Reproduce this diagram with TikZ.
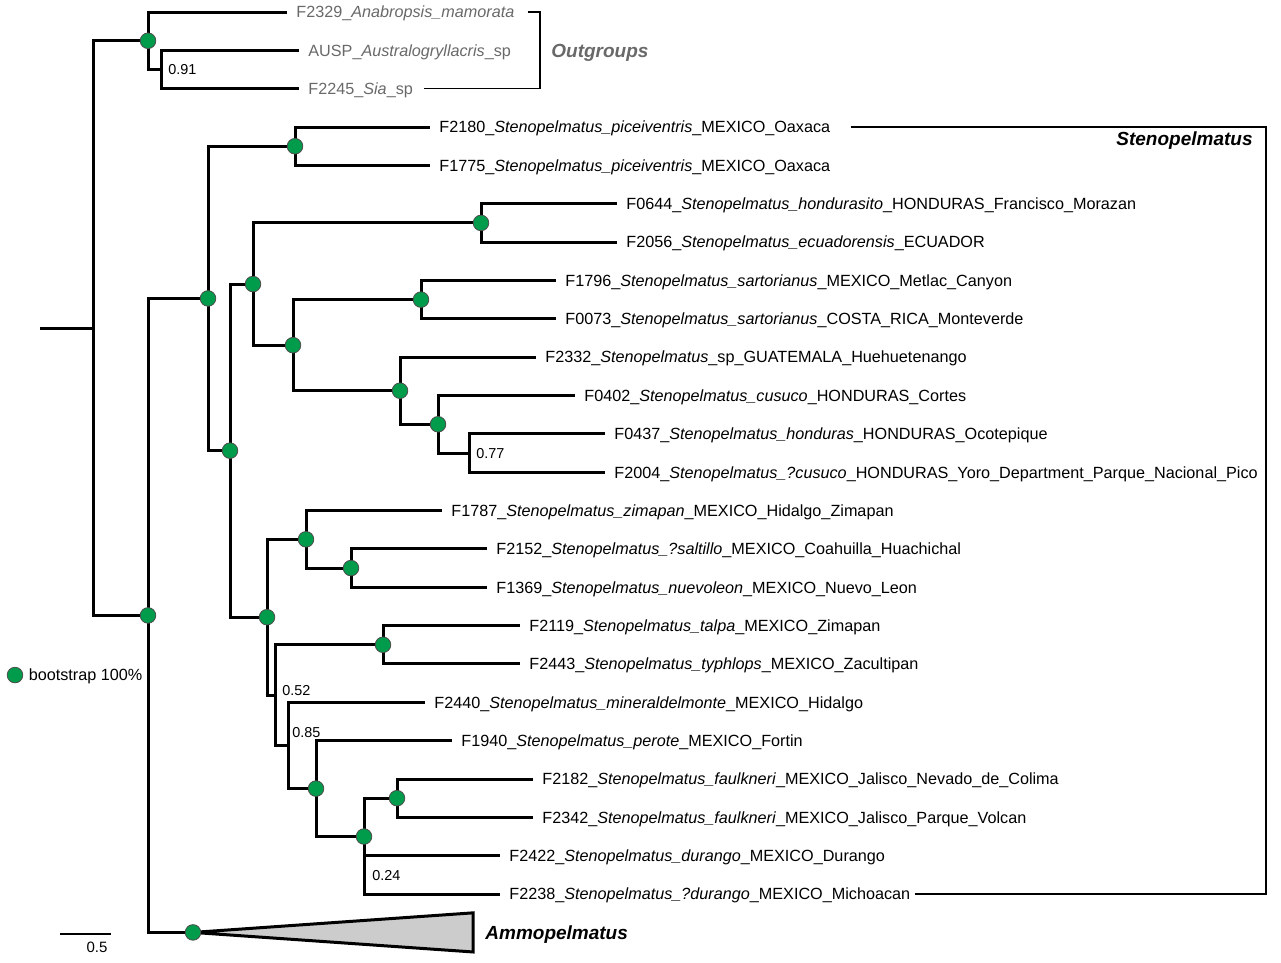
\documentclass[tikz,border=0pt]{standalone}
\usepackage{fontspec}
\setmainfont{Liberation Sans}
\usetikzlibrary{positioning}

\definecolor{bootgreen}{RGB}{0,155,75}
\definecolor{outgray}{RGB}{105,105,105}

\tikzset{
  branch/.style={line width=1.5pt},
  boot/.style={circle, fill=bootgreen, draw=black!70, line width=0.4pt,
               minimum size=7.8pt, inner sep=0pt},
  tip/.style={anchor=west, font=\fontsize{8.1}{9.7}\selectfont,
              text height=5.8pt, text depth=0pt, inner xsep=4.5pt, inner ysep=0pt},
  supp/.style={font=\fontsize{7.2}{8.6}\selectfont, text height=5.15pt,
               text depth=0pt, inner sep=0pt},
  clade/.style={font=\fontsize{9.5}{11.4}\selectfont\bfseries\itshape,
                text height=6.8pt, text depth=0pt, inner sep=0pt},
  bracket/.style={line width=0.65pt},
}

\begin{document}
\begin{tikzpicture}[x=0.5pt, y=-19.175pt]

  \useasboundingbox (0,-0.313) rectangle (1281,24.772);

  % ── Internal nodes  (x = branch length | y = tip row) ─────────────
  \coordinate (rootstub) at (40,8.242);
  \coordinate (nRoot) at (93,8.242);
  \coordinate (nOG)   at (148,0.75);
  \coordinate (nOGa)  at (161,1.5);
  \coordinate (nIG)   at (148,15.734);
  \coordinate (nSten) at (208,7.469);
  \coordinate (nPice) at (295,3.5);
  \coordinate (nCen)  at (230,11.438);
  \coordinate (nNeo)  at (253,7.094);
  \coordinate (nHond) at (481,5.5);
  \coordinate (nSart) at (293,8.688);
  \coordinate (nSar2) at (421,7.5);
  \coordinate (nGua)  at (400,9.875);
  \coordinate (nCus)  at (438,10.75);
  \coordinate (nPico) at (469,11.5);
  \coordinate (nMex)  at (267,15.781);
  \coordinate (nZim)  at (306,13.75);
  \coordinate (nNuev) at (351,14.5);
  \coordinate (nLow)  at (275,17.813);
  \coordinate (nTal)  at (383,16.5);
  \coordinate (nMin)  at (288,19.125);
  \coordinate (nPer)  at (316,20.25);
  \coordinate (nFaul) at (364,21.5);
  \coordinate (nFau2) at (397,20.5);
  \coordinate (nDur)  at (364,22.5);
  \coordinate (nAmmo) at (193,24);

  % ── Outgroup tips ─────────────────────────────────────────────────
  \node[tip, text=outgray] (t0) at (287,0) {F2329\_\textit{Anabropsis\_mamorata}};
  \node[tip, text=outgray] (t1) at (299,1) {AUSP\_\textit{Australogryllacris}\_sp};
  \node[tip, text=outgray] (t2) at (299,2) {F2245\_\textit{Sia}\_sp};

  % ── Stenopelmatus tips  (row | branch end | label) ────────────────
  \foreach \i/\x/\lab in {
    3/430/{F2180\_\textit{Stenopelmatus\_piceiventris}\_MEXICO\_Oaxaca},
    4/430/{F1775\_\textit{Stenopelmatus\_piceiventris}\_MEXICO\_Oaxaca},
    5/617/{F0644\_\textit{Stenopelmatus\_hondurasito}\_HONDURAS\_Francisco\_Morazan},
    6/617/{F2056\_\textit{Stenopelmatus\_ecuadorensis}\_ECUADOR},
    7/556/{F1796\_\textit{Stenopelmatus\_sartorianus}\_MEXICO\_Metlac\_Canyon},
    8/556/{F0073\_\textit{Stenopelmatus\_sartorianus}\_COSTA\_RICA\_Monteverde},
    9/536/{F2332\_\textit{Stenopelmatus}\_sp\_GUATEMALA\_Huehuetenango},
    10/575/{F0402\_\textit{Stenopelmatus\_cusuco}\_HONDURAS\_Cortes},
    11/605/{F0437\_\textit{Stenopelmatus\_honduras}\_HONDURAS\_Ocotepique},
    12/605/{F2004\_\textit{Stenopelmatus\_?cusuco}\_HONDURAS\_Yoro\_Department\_Parque\_Nacional\_Pico},
    13/442/{F1787\_\textit{Stenopelmatus\_zimapan}\_MEXICO\_Hidalgo\_Zimapan},
    14/487/{F2152\_\textit{Stenopelmatus\_?saltillo}\_MEXICO\_Coahuilla\_Huachichal},
    15/487/{F1369\_\textit{Stenopelmatus\_nuevoleon}\_MEXICO\_Nuevo\_Leon},
    16/520/{F2119\_\textit{Stenopelmatus\_talpa}\_MEXICO\_Zimapan},
    17/520/{F2443\_\textit{Stenopelmatus\_typhlops}\_MEXICO\_Zacultipan},
    18/425/{F2440\_\textit{Stenopelmatus\_mineraldelmonte}\_MEXICO\_Hidalgo},
    19/452/{F1940\_\textit{Stenopelmatus\_perote}\_MEXICO\_Fortin},
    20/533/{F2182\_\textit{Stenopelmatus\_faulkneri}\_MEXICO\_Jalisco\_Nevado\_de\_Colima},
    21/533/{F2342\_\textit{Stenopelmatus\_faulkneri}\_MEXICO\_Jalisco\_Parque\_Volcan},
    22/500/{F2422\_\textit{Stenopelmatus\_durango}\_MEXICO\_Durango},
    23/500/{F2238\_\textit{Stenopelmatus\_?durango}\_MEXICO\_Michoacan}}{
    \node[tip] (t\i) at (\x,\i) {\lab};
  }

  % ── Branches ──────────────────────────────────────────────────────
  \draw[branch] (rootstub) -- (nRoot);
  \foreach \p/\c in {nRoot/nOG, nRoot/nIG, nOG/t0, nOG/nOGa, nOGa/t1, nOGa/t2,
                     nIG/nSten, nIG/nAmmo, nSten/nPice, nSten/nCen,
                     nPice/t3, nPice/t4, nCen/nNeo, nCen/nMex,
                     nNeo/nHond, nNeo/nSart, nHond/t5, nHond/t6,
                     nSart/nSar2, nSart/nGua, nSar2/t7, nSar2/t8,
                     nGua/t9, nGua/nCus, nCus/t10, nCus/nPico, nPico/t11, nPico/t12,
                     nMex/nZim, nMex/nLow, nZim/t13, nZim/nNuev, nNuev/t14, nNuev/t15,
                     nLow/nTal, nLow/nMin, nTal/t16, nTal/t17,
                     nMin/t18, nMin/nPer, nPer/t19, nPer/nFaul,
                     nFaul/nFau2, nFaul/nDur, nFau2/t20, nFau2/t21,
                     nDur/t22, nDur/t23}{
    \draw[branch] (\p) |- (\c);
  }

  % ── Collapsed Ammopelmatus clade ──────────────────────────────────
  \coordinate (ammoT) at (473,23.49);
  \coordinate (ammoB) at (473,24.51);
  \coordinate (ammoR) at (473,24);
  \draw[branch, fill=gray!40] (nAmmo) -- (ammoT) -- (ammoB) -- cycle;
  \node[clade] (ammolab) [right=6pt of ammoR] {Ammopelmatus};

  % ── Bootstrap 100% dots ───────────────────────────────────────────
  \foreach \n in {nOG, nIG, nSten, nPice, nCen, nNeo, nHond, nSart, nSar2,
                  nGua, nCus, nMex, nZim, nNuev, nTal, nPer, nFaul, nFau2, nAmmo}{
    \node[boot] (d\n) at (\n) {};
  }

  % ── Support values < 1 ────────────────────────────────────────────
  \node[supp, right=3.5pt of nOGa] (s091) {0.91};
  \node[supp, right=3.5pt of nPico] (s077) {0.77};
  \node[supp, right=3.5pt of nLow, yshift=2.5pt] (s052) {0.52};
  \node[supp, right=2pt of nMin, yshift=6.5pt] (s085) {0.85};
  \node[supp, right=4pt of nDur] (s024) {0.24};

  % ── Clade brackets ────────────────────────────────────────────────
  \coordinate (ogB) at (540,1);
  \draw[bracket] ([xshift=2pt]t0.east) -| (ogB) |- ([xshift=1pt]t2.east);
  \node[clade, text=outgray] (oglab) [right=5.5pt of ogB] {Outgroups};

  \coordinate (stB) at (1266,3);
  \draw[bracket] ([xshift=5.5pt]t3.east) -| (stB) |- ([xshift=-2.5pt]t23.east);
  \node[clade] (stlab) [below left=2pt and 6.5pt of stB] {Stenopelmatus};

  % ── Legend and scale bar ──────────────────────────────────────────
  \node[boot] (legdot) at (15,17.29) {};
  \node[supp, font=\fontsize{8.1}{9.7}\selectfont, text height=5.8pt,
        right=2.6pt of legdot] (legtxt) {bootstrap 100\%};

  \coordinate (sbL) at (60,24.04);
  \coordinate (sbR) at (111,24.04);
  \draw[bracket] (sbL) -- (sbR);
  \node[supp, font=\fontsize{7.5}{9}\selectfont, text height=5.4pt] (sblab)
        at (97,24.38) {0.5};

\end{tikzpicture}
\end{document}
